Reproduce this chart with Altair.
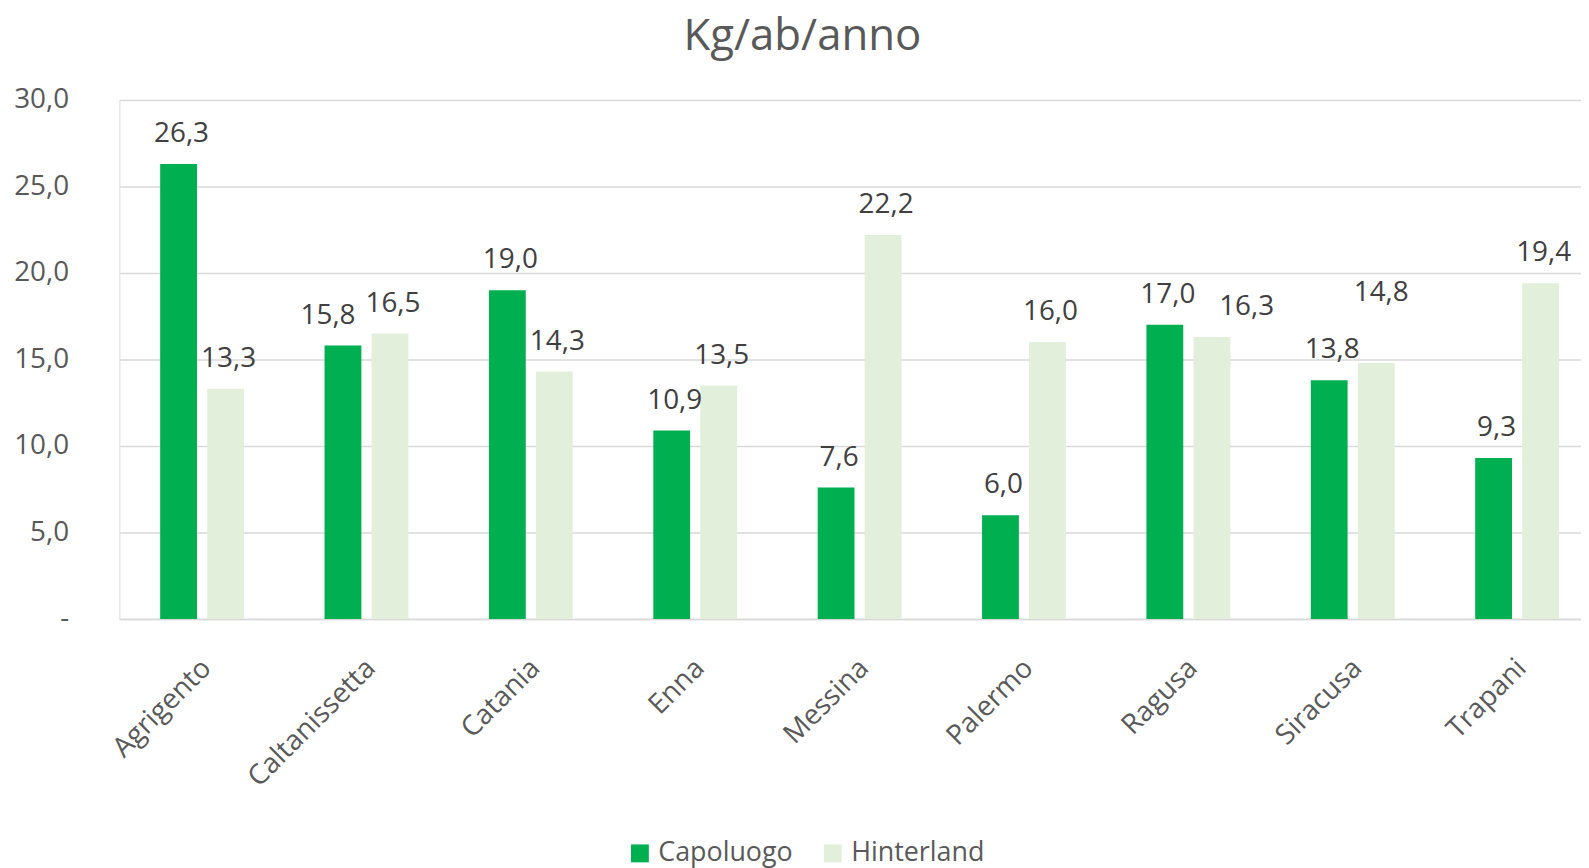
import altair as alt
import pandas as pd

province = ["Agrigento", "Caltanissetta", "Catania", "Enna", "Messina",
            "Palermo", "Ragusa", "Siracusa", "Trapani"]
capoluogo = [26.3, 15.8, 19.0, 10.9, 7.6, 6.0, 17.0, 13.8, 9.3]
hinterland = [13.3, 16.5, 14.3, 13.5, 22.2, 16.0, 16.3, 14.8, 19.4]
series = ["Capoluogo", "Hinterland"]
colors = ["#00B050", "#E2EFDA"]
y_ticks = [0, 5, 10, 15, 20, 25, 30]

rows = []
for p, c, h in zip(province, capoluogo, hinterland):
    rows.append({"Provincia": p, "Serie": series[0], "Valore": c})
    rows.append({"Provincia": p, "Serie": series[1], "Valore": h})
df = pd.DataFrame(rows)

FONT = "Open Sans"

x_enc = alt.X("Provincia:N", sort=province,
              scale=alt.Scale(paddingInner=0.49, paddingOuter=0.191, align=0.65),
              axis=alt.Axis(title=None, labelAngle=-45, labelAlign="right",
                            labelBaseline="middle", labelPadding=45, labelOffset=5,
                            ticks=False, domain=True, domainColor="#D9D9D9",
                            domainWidth=1.5, labelFont=FONT, labelFontSize=28,
                            labelColor="#595959", grid=False))
xo_enc = alt.XOffset("Serie:N", sort=series,
                     scale=alt.Scale(paddingInner=0.217, paddingOuter=0))
y_enc = alt.Y("Valore:Q", scale=alt.Scale(domain=[0, 30], nice=False),
              axis=alt.Axis(title=None, values=y_ticks, domain=False, ticks=False,
                            labelPadding=51, labelFont=FONT, labelFontSize=28,
                            labelColor="#595959", gridColor="#D9D9D9", gridWidth=1.5,
                            labelExpr="datum.value == 0 ? '-' : replace(format(datum.value, '.1f'), '.', ',')"))

base = alt.Chart(df).transform_calculate(
    lab="replace(format(datum.Valore, '.1f'), '.', ',')"
)

bars = base.mark_bar().encode(
    x=x_enc, xOffset=xo_enc, y=y_enc,
    color=alt.Color("Serie:N", sort=series,
                    scale=alt.Scale(domain=series, range=colors),
                    legend=alt.Legend(title=None, orient="none", direction="horizontal",
                                      legendX=510, legendY=744, symbolType="square",
                                      symbolSize=324, symbolStrokeWidth=0,
                                      labelFont=FONT, labelFontSize=27,
                                      labelColor="#595959", labelOffset=5,
                                      columnPadding=26)),
)

def text_layer(filt, dx=0, dy=-30):
    return base.transform_filter(filt).mark_text(
        font=FONT, fontSize=28, color="#404040", baseline="middle", dx=dx, dy=dy
    ).encode(x=alt.X("Provincia:N", sort=province), xOffset=alt.XOffset("Serie:N", sort=series),
             y="Valore:Q", text="lab:N")

special = "(datum.Provincia=='Caltanissetta' && datum.Serie=='Capoluogo') || (datum.Provincia=='Ragusa' && datum.Serie=='Hinterland') || (datum.Provincia=='Siracusa' && datum.Serie=='Hinterland')"
labels_main = text_layer("!(" + special + ")", dx=3)
lab_calt = text_layer("datum.Provincia=='Caltanissetta' && datum.Serie=='Capoluogo'", dx=-15)
lab_rag = text_layer("datum.Provincia=='Ragusa' && datum.Serie=='Hinterland'", dx=35)
lab_sir = text_layer("datum.Provincia=='Siracusa' && datum.Serie=='Hinterland'", dx=5, dy=-70)

chart = alt.layer(bars, labels_main, lab_calt, lab_rag, lab_sir).properties(
    width=1470, height=522,
    padding={"left": 112, "top": 90, "right": 0, "bottom": 248},
    autosize=alt.AutoSizeParams(type="none"),
    title=alt.TitleParams("Kg/ab/anno", font=FONT, fontSize=44, fontWeight="normal",
                          color="#595959", anchor="middle", frame="group", dx=-48,
                          baseline="alphabetic", offset=-8),
).configure_view(stroke=None).configure(background="white")

chart.save("out.html", embed_options={"renderer": "svg", "actions": False})
